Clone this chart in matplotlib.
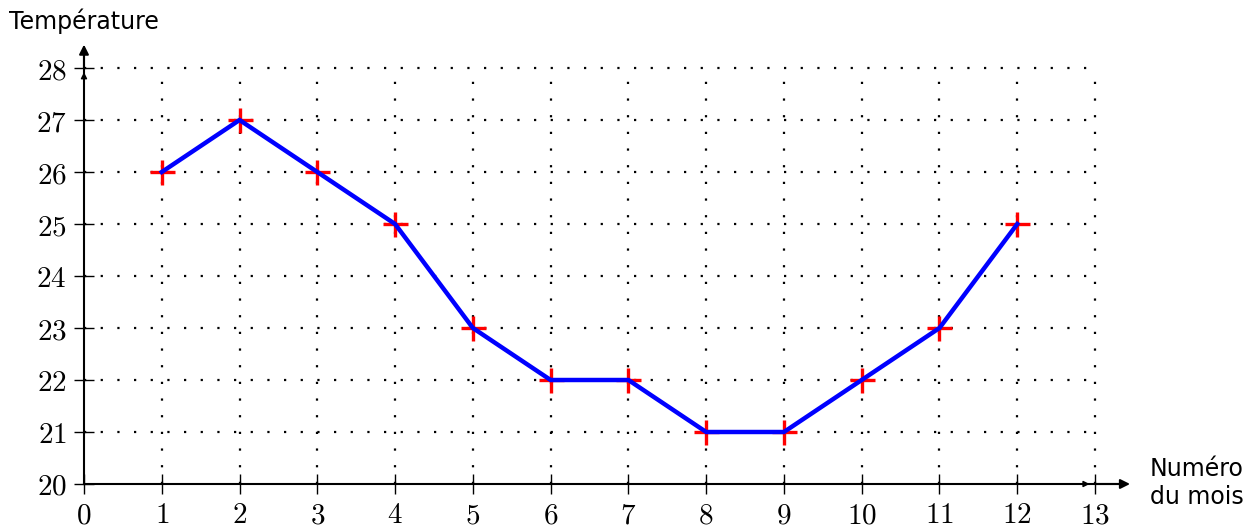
import numpy as np
import matplotlib
matplotlib.use('Agg')
import matplotlib.pyplot as plt

# ── Data ────────────────────────────────────────────────────────────────────
mois        = [1, 2, 3, 4, 5, 6, 7, 8, 9, 10, 11, 12]
temperature = [26, 27, 26, 25, 23, 22, 22, 21, 21, 22, 23, 25]
x_ticks     = list(range(0, 14))
y_ticks     = list(range(20, 29))

plt.rcParams['mathtext.fontset'] = 'cm'

fig = plt.figure(figsize=(12.55, 5.31), dpi=100)
ax = fig.add_axes([0, 0, 1, 1])
ax.set_xlim(-1.080, 15.057)
ax.set_ylim(19.096, 29.308)

# dotted grid, only inside the box 0..13 x 20..28
dots = (0, (1, 6.5))
ax.hlines(y_ticks[1:], 0, 13, colors='black', lw=1.6, linestyles=dots, zorder=1)
ax.vlines(x_ticks[1:], 20, 28, colors='black', lw=1.6, linestyles=dots, zorder=1)

# axes through (0, 20)
for side in ['top', 'right']:
    ax.spines[side].set_visible(False)
ax.spines['left'].set_position(('data', 0))
ax.spines['bottom'].set_position(('data', 20))
ax.spines['left'].set_bounds(20, 28.3)
ax.spines['bottom'].set_bounds(0, 13.3)
for side in ['left', 'bottom']:
    ax.spines[side].set_linewidth(1.5)
    ax.spines[side].set_zorder(3)

ax.set_xticks(x_ticks)
ax.set_yticks(y_ticks)
ax.set_xticklabels([f"${v}$" for v in x_ticks])
ax.set_yticklabels([f"${v}$" for v in y_ticks])
ax.tick_params(direction='inout', length=15, width=1, labelsize=21)
ax.tick_params(axis='x', pad=5)
ax.tick_params(axis='y', pad=5)

# arrow heads
arr = dict(arrowstyle='-|>', color='black', lw=1.5, mutation_scale=14,
           shrinkA=0, shrinkB=0)
ax.annotate('', xy=(13.45, 20), xytext=(13.0, 20), arrowprops=arr, zorder=3)
ax.annotate('', xy=(0, 28.45), xytext=(0, 28.0), arrowprops=arr, zorder=3)
small = dict(arrowstyle='-|>', color='black', lw=1.0, mutation_scale=9,
             shrinkA=0, shrinkB=0)
ax.annotate('', xy=(12.93, 20), xytext=(12.7, 20), arrowprops=small, zorder=3)
ax.annotate('', xy=(0, 27.92), xytext=(0, 27.6), arrowprops=small, zorder=3)

# data
ax.plot(mois, temperature, ls='none', marker='+', ms=18, mew=2.4,
        color='red', zorder=4)
ax.plot(mois, temperature, color='blue', lw=3.2, zorder=5,
        solid_joinstyle='miter')

# axis titles
fig.text(9 / 1255, 1 - 21 / 531, "Température", fontsize=17,
         family='DejaVu Sans', ha='left', va='center')
fig.text(1197 / 1255, 1 - 483 / 531, "Numéro\ndu mois", fontsize=17,
         family='DejaVu Sans', ha='center', va='center', linespacing=1.2)

fig.savefig("out.png", dpi=100)
